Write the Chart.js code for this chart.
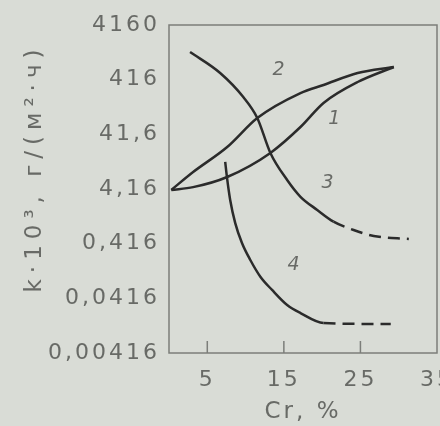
<!DOCTYPE html>
<html>
<head>
<meta charset="utf-8">
<script src="https://cdn.jsdelivr.net/npm/chart.js@4"></script>
<style>
  html, body { margin: 0; padding: 0; background: #d9dcd6; }
  canvas { display: block; }
</style>
</head>
<body>
<canvas id="chart" width="440" height="426"></canvas>
<script>
// Achsen
const xTicks = [5, 15, 25, 35];
const yTicks = [0.00416, 0.0416, 0.416, 4.16, 41.6, 416, 4160];
const yTickLabels = ['0,00416', '0,0416', '0,416', '4,16', '41,6', '416', '4160'];

// Kurven (Cr %, k)
const curve1X = [0.3, 3.15, 7.6, 13.24, 17.17, 20.18, 24.64, 29.36];
const curve1Y = [4.0, 4.5, 6.9, 19.0, 56.6, 156, 377, 710];

const curve2X = [0.3, 3.15, 7.6, 11.53, 17.17, 20.18, 24.64, 29.36];
const curve2Y = [4.0, 8.5, 24.4, 82.8, 237, 333, 551, 710];

const curve3X = [2.75, 6.68, 9.7, 11.53, 13.24, 15.43, 17.17, 19.36, 21.49, 24.11, 26.74, 31.32];
const curve3Y = [1334, 551, 200, 82.8, 19.0, 6.08, 3.0, 1.72, 1.05, 0.74, 0.574, 0.507];

const curve4X = [7.34, 7.56, 7.99, 8.65, 9.53, 10.62, 11.93, 13.46, 15.43, 17.17, 20.18, 28.96];
const curve4Y = [13.1, 6.98, 2.62, 0.99, 0.428, 0.209, 0.1035, 0.0592, 0.0314, 0.0224, 0.0147, 0.0141];

// Kurvennummern
const curveNames = ['1', '2', '3', '4'];
const nameX = [21.6, 14.3, 20.7, 16.25];
const nameY = [79, 625, 5.36, 0.17];

const ink = '#2b2b2b';
const textGray = '#686a66';

function points(xs, ys) {
  return xs.map((x, i) => ({ x: x, y: ys[i] }));
}

function dashedFrom(limit) {
  return {
    borderDash: ctx => ctx.p0.parsed.x >= limit ? [12, 7] : undefined
  };
}

const lineStyle = {
  borderColor: ink,
  borderWidth: 2.5,
  pointRadius: 0,
  fill: false,
  cubicInterpolationMode: 'monotone'
};

const scanLook = {
  id: 'scanLook',
  beforeLayout(chart) {
    chart.ctx.letterSpacing = '3px';
  },
  beforeDraw(chart) {
    const ctx = chart.ctx;
    ctx.save();
    ctx.fillStyle = '#d9dcd6';
    ctx.fillRect(0, 0, chart.width, chart.height);
    ctx.restore();
    ctx.letterSpacing = '3px';
  },
  afterDraw(chart) {
    const ctx = chart.ctx;
    const area = chart.chartArea;
    const xs = chart.scales.x;

    ctx.save();
    ctx.strokeStyle = '#7c7e7a';
    ctx.lineWidth = 1.5;
    ctx.strokeRect(area.left, area.top, area.right - area.left, area.bottom - area.top);

    // kleine Striche nach innen
    ctx.beginPath();
    xTicks.slice(0, 3).forEach(v => {
      const px = xs.getPixelForValue(v);
      ctx.moveTo(px, area.bottom);
      ctx.lineTo(px, area.bottom - 12);
    });
    ctx.stroke();

    // Kurvennummern
    ctx.fillStyle = textGray;
    ctx.font = 'italic 19px "DejaVu Sans"';
    ctx.textAlign = 'center';
    ctx.textBaseline = 'middle';
    ctx.letterSpacing = '0px';
    curveNames.forEach((name, i) => {
      ctx.fillText(name, xs.getPixelForValue(nameX[i]), chart.scales.y.getPixelForValue(nameY[i]));
    });

    // y-Achsentitel
    ctx.translate(35, 168);
    ctx.rotate(-Math.PI / 2);
    ctx.font = '23px "DejaVu Sans"';
    ctx.letterSpacing = '6px';
    ctx.fillText('k·10³, г/(м²·ч)', 0, 0);
    ctx.restore();
  }
};

new Chart(document.getElementById('chart'), {
  type: 'line',
  data: {
    datasets: [
      Object.assign({ label: '1', data: points(curve1X, curve1Y) }, lineStyle),
      Object.assign({ label: '2', data: points(curve2X, curve2Y) }, lineStyle),
      Object.assign({ label: '3', data: points(curve3X, curve3Y), segment: dashedFrom(21) }, lineStyle),
      Object.assign({ label: '4', data: points(curve4X, curve4Y), segment: dashedFrom(20) }, lineStyle)
    ]
  },
  options: {
    responsive: false,
    animation: false,
    layout: { padding: { top: 25, right: 3, left: 0, bottom: 0 } },
    plugins: {
      legend: { display: false },
      tooltip: { enabled: false }
    },
    scales: {
      x: {
        type: 'linear',
        min: 0,
        max: 35,
        grid: { display: false },
        border: { display: false },
        afterBuildTicks(scale) {
          scale.ticks = xTicks.map(v => ({ value: v }));
        },
        afterFit(scale) {
          scale.height = 73;
          scale.paddingLeft = 0;
          scale.paddingRight = 0;
        },
        ticks: {
          color: textGray,
          font: { family: 'DejaVu Sans', size: 22 },
          padding: 6,
          maxRotation: 0,
          autoSkip: false,
          callback: value => String(value)
        },
        title: {
          display: true,
          text: 'Cr, %',
          color: textGray,
          font: { family: 'DejaVu Sans', size: 23 },
          padding: { top: 1, bottom: 0 }
        }
      },
      y: {
        type: 'logarithmic',
        min: 0.00416,
        max: 4160,
        grid: { display: false },
        border: { display: false },
        afterBuildTicks(scale) {
          scale.ticks = yTicks.map(v => ({ value: v }));
        },
        afterFit(scale) {
          scale.width = 169;
          scale.paddingTop = 0;
          scale.paddingBottom = 0;
        },
        ticks: {
          color: textGray,
          font: { family: 'DejaVu Sans', size: 22 },
          padding: 1,
          autoSkip: false,
          callback: value => {
            const i = yTicks.indexOf(value);
            return i >= 0 ? yTickLabels[i] : '';
          }
        }
      }
    }
  },
  plugins: [scanLook]
});
</script>
</body>
</html>
